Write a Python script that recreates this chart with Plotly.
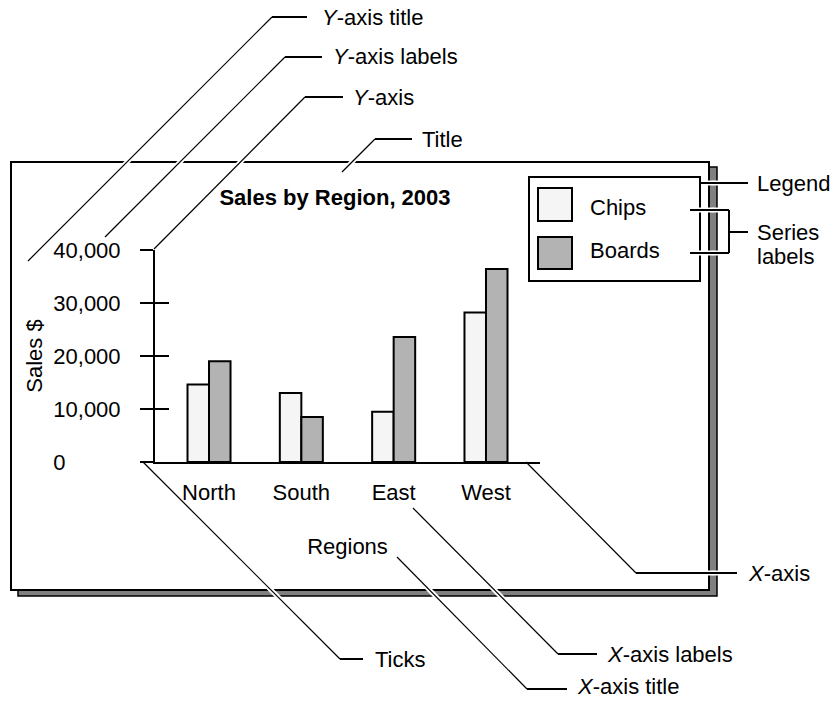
import plotly.graph_objects as go

# ---------------- data ----------------
regions = ["North", "South", "East", "West"]
chips = [14600, 13000, 9500, 28200]
boards = [19000, 8500, 23600, 36400]
series_names = ["Chips", "Boards"]
series_colors = ["#f5f5f5", "#b3b3b3"]
y_tickvals = [0, 10000, 20000, 30000, 40000]
y_ticktext = ["0" + "\u00a0" * 9, "10,000", "20,000", "30,000", "40,000"]
chart_title = "Sales by Region, 2003"
x_title = "Regions"
y_title = "Sales $"

# ---------------- geometry helpers (pixel -> paper) ----------------
W, H = 833, 701
FONT = "Liberation Sans, Arial, Helvetica, sans-serif"


def px(x):
    return x / W


def py(y):
    return 1 - y / H


fig = go.Figure()
for name, vals, col in zip(series_names, [chips, boards], series_colors):
    fig.add_trace(go.Bar(x=regions, y=vals, name=name,
                         marker=dict(color=col, line=dict(color="black", width=2)),
                         showlegend=False, hoverinfo="x+y+name"))
# empty trace so the overlay axis (inner half of the ticks) is drawn
fig.add_trace(go.Bar(x=[], y=[], yaxis="y2", showlegend=False, hoverinfo="skip"))

shapes = []
annotations = []

# frame with drop shadow
shapes.append(dict(type="rect", xref="paper", yref="paper", layer="below",
                   x0=px(18), x1=px(717), y0=py(596), y1=py(167),
                   fillcolor="#808080", line=dict(color="black", width=1.5)))
shapes.append(dict(type="rect", xref="paper", yref="paper", layer="below",
                   x0=px(11), x1=px(709), y0=py(590), y1=py(162),
                   fillcolor="white", line=dict(color="black", width=2)))

# legend box
shapes.append(dict(type="rect", xref="paper", yref="paper", layer="above",
                   x0=px(529), x1=px(700), y0=py(281), y1=py(177),
                   fillcolor="white", line=dict(color="black", width=2)))
leg_rows = [(188, 221, 207), (237, 269, 250)]
for (t, b, c), name, col in zip(leg_rows, series_names, series_colors):
    shapes.append(dict(type="rect", xref="paper", yref="paper", layer="above",
                       x0=px(538), x1=px(572), y0=py(b), y1=py(t),
                       fillcolor=col, line=dict(color="black", width=2)))
    annotations.append(dict(text=name, x=px(588), y=py(c), xref="paper", yref="paper",
                            xanchor="left", yanchor="middle", showarrow=False,
                            font=dict(family=FONT, size=22, color="black")))

# ---------------- callouts ----------------
callouts = [
    # (polyline points, label, label x, label y)
    ([(28, 261), (272, 17), (307, 17)], "<i>Y</i>-axis title", 320, 17),
    ([(105, 237), (285, 57), (322, 57)], "<i>Y</i>-axis labels", 331, 57),
    ([(154, 249), (305, 97), (343, 97)], "<i>Y</i>-axis", 351, 97),
    ([(342, 172), (375, 139), (412, 139)], "Title", 420, 139),
    ([(700, 183), (748, 183)], "Legend", 755, 183),
    ([(526, 462), (636, 573), (737, 573)], "<i>X</i>-axis", 746, 573),
    ([(413, 508), (558, 654), (597, 654)], "<i>X</i>-axis labels", 605, 654),
    ([(143, 462), (340, 659), (363, 659)], "Ticks", 373, 659),
    ([(397, 557), (527, 689), (567, 689)], "<i>X</i>-axis title", 575, 686),
]
series_bracket = [
    [(690, 210), (729, 210)],
    [(690, 253), (729, 253)],
    [(729, 210), (729, 253)],
    [(729, 232), (748, 232)],
]

# borders the callout lines cut through (white gap)
vborders = [(700, 177, 281), (709, 162, 590), (717, 167, 596)]
hborders = [(162, 11, 709), (590, 11, 709), (596, 18, 717)]


def halos(p0, p1):
    out = []
    (x0, y0), (x1, y1) = p0, p1
    L = ((x1 - x0) ** 2 + (y1 - y0) ** 2) ** 0.5
    ux, uy = (x1 - x0) / L, (y1 - y0) / L
    pts = []
    for (xc, ya, yb) in vborders:
        if x1 != x0:
            t = (xc - x0) / (x1 - x0)
            if 0.001 < t < 0.999:
                yy = y0 + t * (y1 - y0)
                if ya - 3 <= yy <= yb + 3:
                    pts.append((xc, yy))
    for (yc, xa, xb) in hborders:
        if y1 != y0:
            t = (yc - y0) / (y1 - y0)
            if 0.001 < t < 0.999:
                xx = x0 + t * (x1 - x0)
                if xa - 3 <= xx <= xb + 3:
                    pts.append((xx, yc))
    for (cx, cy) in pts:
        out.append(dict(type="line", xref="paper", yref="paper", layer="above",
                        x0=px(cx - 4.5 * ux), y0=py(cy - 4.5 * uy),
                        x1=px(cx + 4.5 * ux), y1=py(cy + 4.5 * uy),
                        line=dict(color="white", width=5)))
    return out


segments = []
for pts, *_ in callouts:
    for a, b in zip(pts[:-1], pts[1:]):
        segments.append((a, b))
for pts in series_bracket:
    segments.append((pts[0], pts[1]))

for a, b in segments:
    shapes.extend(halos(a, b))
for a, b in segments:
    horiz = a[1] == b[1] or a[0] == b[0]
    shapes.append(dict(type="line", xref="paper", yref="paper", layer="above",
                       x0=px(a[0]), y0=py(a[1]), x1=px(b[0]), y1=py(b[1]),
                       line=dict(color="black", width=2 if horiz else 1.2)))

for pts, label, lx, ly in callouts:
    annotations.append(dict(text=label, x=px(lx), y=py(ly), xref="paper", yref="paper",
                            xanchor="left", yanchor="middle", showarrow=False,
                            font=dict(family=FONT, size=22, color="black")))
for label, ly in [("Series", 232), ("labels", 256)]:
    annotations.append(dict(text=label, x=px(755), y=py(ly), xref="paper", yref="paper",
                            xanchor="left", yanchor="middle", showarrow=False,
                            font=dict(family=FONT, size=22, color="black")))

fig.update_layout(
    width=W, height=H,
    margin=dict(l=0, r=0, t=0, b=0, pad=0),
    paper_bgcolor="white", plot_bgcolor="rgba(0,0,0,0)",
    font=dict(family=FONT, size=22, color="black"),
    barmode="group", bargap=0.534, bargroupgap=0,
    showlegend=False,
    title=dict(text=chart_title, x=px(335), xanchor="center", y=py(197), yanchor="middle",
               xref="paper", yref="paper",
               font=dict(family=FONT, size=22, color="black", weight="bold")),
    xaxis=dict(domain=[px(155), px(540)], range=[-0.585, 3.585], type="category",
               showline=True, linecolor="black", linewidth=2, ticks="",
               showgrid=False, zeroline=False, automargin=False,
               tickfont=dict(family=FONT, size=22, color="black"),
               ticklabelstandoff=10,
               title=dict(text=x_title, standoff=34,
                          font=dict(family=FONT, size=22, color="black"))),
    yaxis=dict(domain=[py(462), py(250)], range=[0, 40000],
               showline=True, linecolor="black", linewidth=2,
               ticks="outside", ticklen=13, tickwidth=2, tickcolor="black",
               tickvals=y_tickvals, ticktext=y_ticktext,
               showgrid=False, zeroline=False, automargin=False,
               tickfont=dict(family=FONT, size=22, color="black"),
               ticklabelstandoff=15,
               title=dict(text=y_title, standoff=5,
                          font=dict(family=FONT, size=22, color="black"))),
    yaxis2=dict(overlaying="y", anchor="x", side="left", range=[0, 40000],
                ticks="inside", ticklen=14, tickwidth=2, tickcolor="black",
                tickvals=y_tickvals, showticklabels=False, showline=False,
                showgrid=False, zeroline=False),
    shapes=shapes,
    annotations=annotations,
)

fig.write_html("out.html", config={"displayModeBar": False},
               post_script="document.body.style.margin='0';")
